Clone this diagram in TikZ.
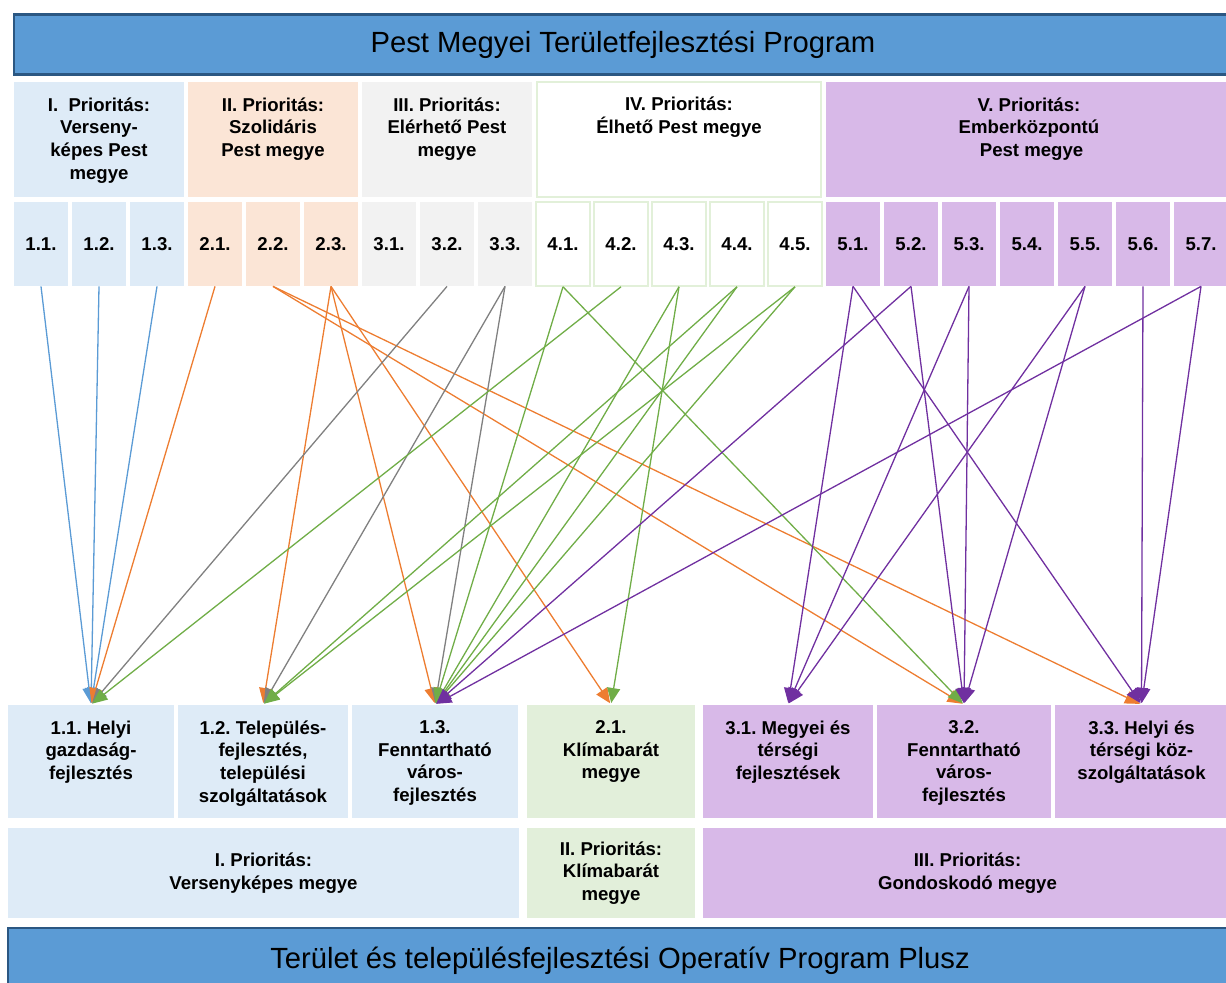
\documentclass[tikz,border=0pt]{standalone}
\usepackage{fontspec}
\setmainfont{Liberation Sans}
\usetikzlibrary{arrows.meta}
\frenchspacing

\definecolor{hdrBlue}{HTML}{5B9BD5}
\definecolor{hdrLine}{HTML}{2B5782}
\definecolor{fillI}{HTML}{DEEBF7}
\definecolor{fillII}{HTML}{FBE5D6}
\definecolor{fillIII}{HTML}{F2F2F2}
\definecolor{lineIV}{HTML}{E2F0D9}
\definecolor{fillV}{HTML}{D8B9E8}
\definecolor{fillGreen}{HTML}{E2EFDA}
\definecolor{cBlue}{HTML}{5B9BD5}
\definecolor{cOrange}{HTML}{ED7D31}
\definecolor{cGray}{HTML}{808080}
\definecolor{cGreen}{HTML}{70AD47}
\definecolor{cPurple}{HTML}{7030A0}

\begin{document}
\begin{tikzpicture}[x=0.5pt, y=-0.5pt,
    hdr/.style={rectangle, fill=hdrBlue, draw=hdrLine, line width=1.2pt, inner sep=0pt,
      minimum width=609pt, minimum height=30pt, font=\fontsize{14.6}{17}\selectfont},
    prio/.style={rectangle, inner sep=0pt, minimum height=57.5pt},
    num/.style={rectangle, inner sep=0pt, minimum width=27pt, minimum height=42pt,
      font=\fontsize{9.3}{11.3}\selectfont\bfseries},
    goal/.style={rectangle, inner sep=0pt, minimum height=56.5pt},
    axis/.style={rectangle, inner sep=0pt, minimum height=45pt, align=center,
      font=\fontsize{9.3}{11.3}\selectfont\bfseries},
    txt/.style={anchor=north, inner sep=0pt, align=center,
      font=\fontsize{9.3}{11.3}\selectfont\bfseries},
    greenline/.style={draw=lineIV, line width=0.8pt},
    arr/.style={-{Triangle[length=7.5pt,width=6.5pt]}, line width=0.65pt, shorten >=0.8pt}]

  \useasboundingbox (0,0) rectangle (1226,983);

  % top program
  \node[hdr] (top) at (623,44.5) {Pest Megyei Területfejlesztési Program};

  % priorities of the county programme
  \node[prio, fill=fillI, minimum width=85pt]    (p_1) at (99,139.5)   {};
  \node[prio, fill=fillII, minimum width=85pt]   (p_2) at (273,139.5)  {};
  \node[prio, fill=fillIII, minimum width=85pt]  (p_3) at (447,139.5)  {};
  \node[prio, fill=white, greenline, minimum width=142.2pt] (p_4) at (679,139.5) {};
  \node[prio, fill=fillV, minimum width=203pt]   (p_5) at (1029,139.5) {};

  \node[txt] (p_1_txt) at ([yshift=-7.8pt]p_1.north) {I.~ Prioritás:\\Verseny-\\képes Pest\\megye};
  \node[txt] (p_2_txt) at ([yshift=-7.8pt]p_2.north) {II. Prioritás:\\Szolidáris\\Pest megye};
  \node[txt] (p_3_txt) at ([yshift=-7.8pt]p_3.north) {III. Prioritás:\\Elérhető Pest\\megye};
  \node[txt] (p_4_txt) at ([yshift=-7.8pt]p_4.north) {IV. Prioritás:\\Élhető Pest megye};
  \node[txt] (p_5_txt) at ([yshift=-7.8pt]p_5.north) {V. Prioritás:\\Emberközpontú\\~Pest megye};

  % measures
  \node[num, fill=fillI]   (s_11) at (41,244)   {1.1.};
  \node[num, fill=fillI]   (s_12) at (99,244)   {1.2.};
  \node[num, fill=fillI]   (s_13) at (157,244)  {1.3.};
  \node[num, fill=fillII]  (s_21) at (215,244)  {2.1.};
  \node[num, fill=fillII]  (s_22) at (273,244)  {2.2.};
  \node[num, fill=fillII]  (s_23) at (331,244)  {2.3.};
  \node[num, fill=fillIII] (s_31) at (389,244)  {3.1.};
  \node[num, fill=fillIII] (s_32) at (447,244)  {3.2.};
  \node[num, fill=fillIII] (s_33) at (505,244)  {3.3.};
  \node[num, fill=white, greenline] (s_41) at (563,244) {4.1.};
  \node[num, fill=white, greenline] (s_42) at (621,244) {4.2.};
  \node[num, fill=white, greenline] (s_43) at (679,244) {4.3.};
  \node[num, fill=white, greenline] (s_44) at (737,244) {4.4.};
  \node[num, fill=white, greenline] (s_45) at (795,244) {4.5.};
  \node[num, fill=fillV]   (s_51) at (853,244)  {5.1.};
  \node[num, fill=fillV]   (s_52) at (911,244)  {5.2.};
  \node[num, fill=fillV]   (s_53) at (969,244)  {5.3.};
  \node[num, fill=fillV]   (s_54) at (1027,244) {5.4.};
  \node[num, fill=fillV]   (s_55) at (1085,244) {5.5.};
  \node[num, fill=fillV]   (s_56) at (1143,244) {5.6.};
  \node[num, fill=fillV]   (s_57) at (1201,244) {5.7.};

  % measures of the operative programme
  \node[goal, fill=fillI, minimum width=83pt]      (t_11) at (91,761.5)   {};
  \node[goal, fill=fillI, minimum width=85pt]      (t_12) at (263,761.5)  {};
  \node[goal, fill=fillI, minimum width=83pt]      (t_13) at (435,761.5)  {};
  \node[goal, fill=fillGreen, minimum width=84pt]  (t_21) at (611,761.5)  {};
  \node[goal, fill=fillV, minimum width=85pt]      (t_31) at (788,761.5)  {};
  \node[goal, fill=fillV, minimum width=87pt]      (t_32) at (964,761.5)  {};
  \node[goal, fill=fillV, minimum width=86.5pt]    (t_33) at (1141.5,761.5) {};

  \node[txt] (t_11_txt) at ([yshift=-7.8pt]t_11.north) {1.1. Helyi\\gazdaság-\\fejlesztés};
  \node[txt] (t_12_txt) at ([yshift=-7.8pt]t_12.north) {1.2. Település-\\fejlesztés,\\települési\\szolgáltatások};
  \node[txt] (t_13_txt) at ([yshift=-7.8pt]t_13.north) {1.3.\\Fenntartható\\város-\\fejlesztés};
  \node[txt] (t_21_txt) at ([yshift=-7.8pt]t_21.north) {2.1.\\Klímabarát\\megye};
  \node[txt] (t_31_txt) at ([yshift=-7.8pt]t_31.north) {3.1. Megyei és\\térségi\\fejlesztések};
  \node[txt] (t_32_txt) at ([yshift=-7.8pt]t_32.north) {3.2.\\Fenntartható\\város-\\fejlesztés};
  \node[txt] (t_33_txt) at ([yshift=-7.8pt]t_33.north) {3.3. Helyi és\\térségi köz-\\szolgáltatások};

  % priorities of the operative programme
  \node[axis, fill=fillI, minimum width=255.5pt]   (b_1) at (263.5,873) {I. Prioritás:\\Versenyképes megye};
  \node[axis, fill=fillGreen, minimum width=84pt]  (b_2) at (611,873)   {II. Prioritás:\\Klímabarát\\megye};
  \node[axis, fill=fillV, minimum width=264.5pt]   (b_3) at (967.5,873) {III. Prioritás:\\Gondoskodó megye};

  % bottom program
  \node[hdr, minimum width=612pt, minimum height=33pt] (bottom) at (620,961)
    {Terület és településfejlesztési Operatív Program Plusz};

  % links
  \draw[arr, cBlue]   (s_11.south) -- (t_11.north);
  \draw[arr, cBlue]   (s_12.south) -- (t_11.north);
  \draw[arr, cBlue]   (s_13.south) -- (t_11.north);

  \draw[arr, cOrange] (s_21.south) -- (t_11.north);
  \draw[arr, cOrange] (s_22.south) -- (t_32.north);
  \draw[arr, cOrange] (s_22.south) -- (t_33.north);
  \draw[arr, cOrange] (s_23.south) -- (t_12.north);
  \draw[arr, cOrange] (s_23.south) -- (t_13.north);
  \draw[arr, cOrange] (s_23.south) -- (t_21.north);

  \draw[arr, cGray]   (s_32.south) -- (t_11.north);
  \draw[arr, cGray]   (s_33.south) -- (t_12.north);
  \draw[arr, cGray]   (s_33.south) -- (t_13.north);

  \draw[arr, cGreen]  (s_41.south) -- (t_13.north);
  \draw[arr, cGreen]  (s_41.south) -- (t_32.north);
  \draw[arr, cGreen]  (s_42.south) -- (t_11.north);
  \draw[arr, cGreen]  (s_43.south) -- (t_13.north);
  \draw[arr, cGreen]  (s_43.south) -- (t_21.north);
  \draw[arr, cGreen]  (s_44.south) -- (t_12.north);
  \draw[arr, cGreen]  (s_44.south) -- (t_13.north);
  \draw[arr, cGreen]  (s_45.south) -- (t_12.north);
  \draw[arr, cGreen]  (s_45.south) -- (t_13.north);

  \draw[arr, cPurple] (s_51.south) -- (t_31.north);
  \draw[arr, cPurple] (s_51.south) -- (t_33.north);
  \draw[arr, cPurple] (s_52.south) -- (t_13.north);
  \draw[arr, cPurple] (s_52.south) -- (t_32.north);
  \draw[arr, cPurple] (s_53.south) -- (t_31.north);
  \draw[arr, cPurple] (s_53.south) -- (t_32.north);
  \draw[arr, cPurple] (s_55.south) -- (t_31.north);
  \draw[arr, cPurple] (s_55.south) -- (t_32.north);
  \draw[arr, cPurple] (s_56.south) -- (t_33.north);
  \draw[arr, cPurple] (s_57.south) -- (t_13.north);
  \draw[arr, cPurple] (s_57.south) -- (t_33.north);
\end{tikzpicture}
\end{document}
